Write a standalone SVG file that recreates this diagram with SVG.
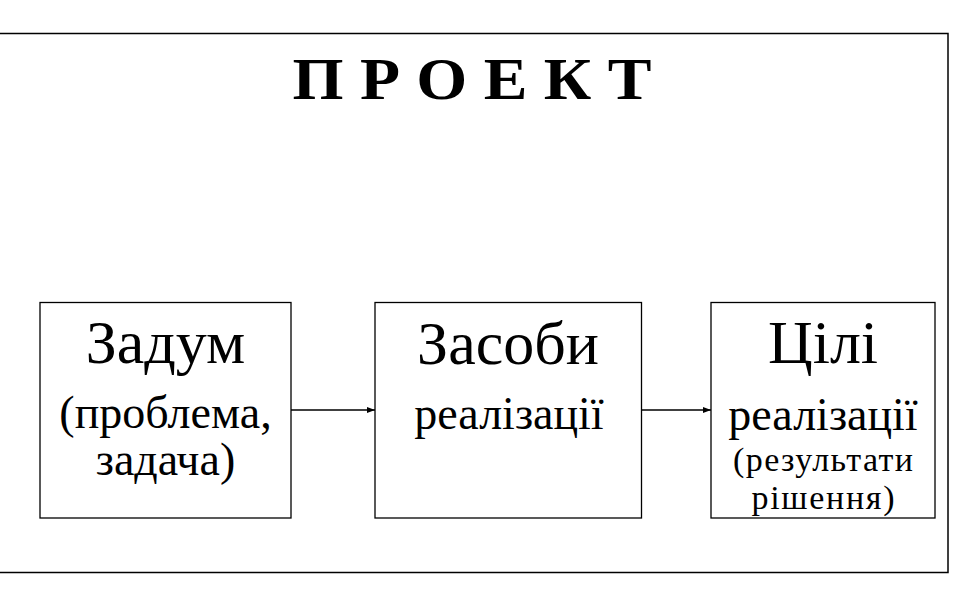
<svg xmlns="http://www.w3.org/2000/svg" width="960" height="600" viewBox="0 0 960 600">
<defs>
<style>
.box{fill:#fff;stroke:#000;stroke-width:1.3}
text{font-family:"Liberation Serif","DejaVu Serif","Times New Roman",serif;fill:#000;text-anchor:middle}
.big{font-size:62px}
.mid{font-size:46px}
.sm{font-size:34px}
.conn{stroke:#000;stroke-width:1.3;fill:none}
</style>
<marker id="ah" markerWidth="8" markerHeight="6" refX="8" refY="3" orient="auto" markerUnits="userSpaceOnUse">
<path d="M0,0 L8,3 L0,6 Z" fill="#000"/>
</marker>
</defs>
<rect width="960" height="600" fill="#fff"/>
<rect id="frame" x="-2" y="33.5" width="950" height="539" fill="none" stroke="#000" stroke-width="1.5"/>
<text x="472" y="99" font-size="60" font-weight="bold" textLength="359" lengthAdjust="spacingAndGlyphs">П Р О Е К Т</text>
<g id="connectors">
<line class="conn" x1="291" y1="410" x2="375" y2="410" marker-end="url(#ah)"/>
<line class="conn" x1="642" y1="410" x2="711" y2="410" marker-end="url(#ah)"/>
</g>
<g id="node1">
<rect class="box" x="40" y="302.5" width="251" height="215.5"/>
<text class="big" x="165.5" y="363">Задум</text>
<text class="mid" x="165.5" y="428">(проблема,</text>
<text class="mid" x="165.5" y="475">задача)</text>
</g>
<g id="node2">
<rect class="box" x="375" y="302.5" width="266.5" height="215.5"/>
<text class="big" x="508" y="364">Засоби</text>
<text class="mid" x="509" y="429">реалізації</text>
</g>
<g id="node3">
<rect class="box" x="711" y="302.5" width="224" height="215.5"/>
<text class="big" x="823" y="363">Цілі</text>
<text class="mid" x="823" y="430">реалізації</text>
<text class="sm" x="823" y="471" textLength="180" lengthAdjust="spacing">(результати</text>
<text class="sm" x="823" y="509" textLength="143" lengthAdjust="spacing">рішення)</text>
</g>
</svg>
